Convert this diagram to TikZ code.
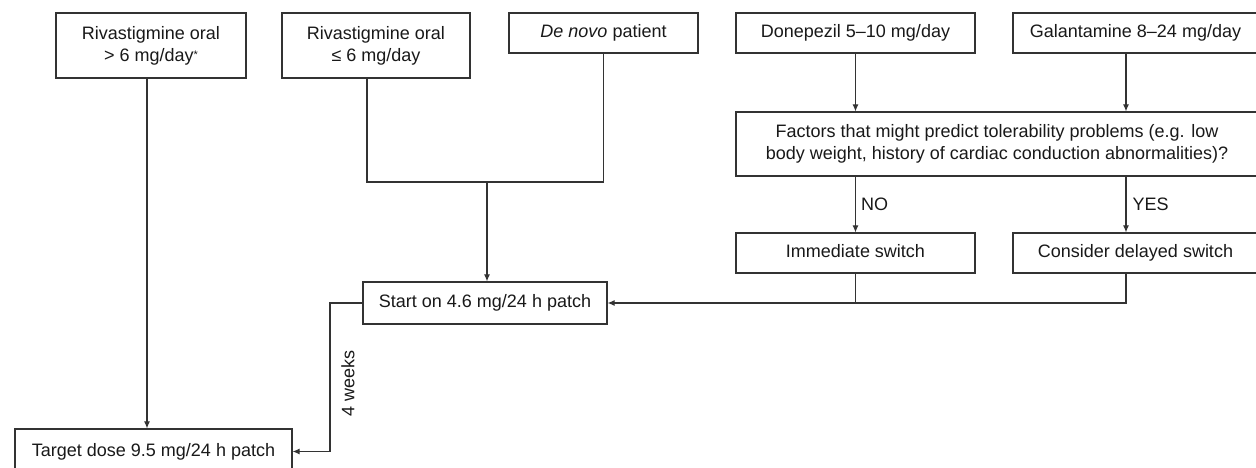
\documentclass[tikz,border=0pt]{standalone}
\usepackage{fontspec}
\setmainfont{Liberation Sans}
\usetikzlibrary{arrows.meta}
\begin{document}
\begin{tikzpicture}[x=1pt,y=-1pt,
  box/.style={draw=black!80, line width=1.2pt, rectangle, align=center, inner sep=0pt,
              font=\fontsize{18}{22}\selectfont, text=black!90},
  oneline/.style={box, text height=13pt, text depth=4pt},
  conn/.style={draw=black!80, line width=1.1pt},
  arr/.style={conn, -{Latex[length=7pt,width=6pt]}},
  lbl/.style={font=\fontsize{18}{22}\selectfont, text=black!90, inner sep=0pt}]
\fill[white] (0,0) rectangle (1256,468);
\useasboundingbox (0,0) rectangle (1256,468);

% top row
\node[box, minimum width=190pt, minimum height=65pt] (A) at (151,45.5)
  {Rivastigmine oral\\> 6 mg/day\raisebox{3pt}{\fontsize{11}{11}\selectfont *}};
\node[box, minimum width=188pt, minimum height=65pt] (B) at (376,45.5)
  {Rivastigmine oral\\≤ 6 mg/day};
\node[oneline, minimum width=189pt, minimum height=40pt] (C) at (603.5,33)
  {\textit{De novo} patient};
\node[oneline, minimum width=239pt, minimum height=40pt] (D) at (855.5,33)
  {Donepezil 5–10 mg/day};
\node[oneline, minimum width=245pt, minimum height=40pt] (E) at (1135.5,33)
  {Galantamine 8–24 mg/day};

% decision
\node[box, minimum width=522pt, minimum height=64pt] (F) at (997,144)
  {Factors that might predict tolerability problems (e.g. low\\body weight, history of cardiac conduction abnormalities)?};

\node[oneline, minimum width=239pt, minimum height=40pt] (G) at (855.5,253)
  {Immediate switch};
\node[oneline, minimum width=245pt, minimum height=40pt] (H) at (1135.5,253)
  {Consider delayed switch};

% start and target
\node[oneline, minimum width=244pt, minimum height=42pt] (S) at (485,303)
  {Start on 4.6 mg/24 h patch};
\node[oneline, minimum width=277pt, minimum height=45pt] (T) at (153.5,451.5)
  {Target dose 9.5 mg/24 h patch};

% connectors
\draw[arr] (A.south -| 147,0) -- (147,0 |- T.north);

\coordinate (J) at (487,182);
\draw[conn] ([xshift=-9pt]B.south) |- (C.south |- J) -- (C.south);
\draw[arr] (J) -- (J |- S.north);

\draw[arr] (D.south) -- (D.south |- F.north);
\draw[arr] ([xshift=-9.5pt]E.south) -- ([xshift=-9.5pt]E.south |- F.north);

\draw[arr] (G.north |- F.south) -- (G.north)
  node[lbl, midway, right=5pt] {NO};
\draw[arr] ([xshift=-9.5pt]H.north |- F.south) -- ([xshift=-9.5pt]H.north)
  node[lbl, midway, right=6pt] {YES};

\draw[arr] ([xshift=-9.5pt]H.south) |- (S.east);
\draw[conn] (G.south) -- (G.south |- S.east);

\coordinate (K) at (330,303);
\draw[arr] (S.west) -- (K) |- (T.east);
\node[lbl, rotate=90] (W) at (348,383) {4 weeks};
\end{tikzpicture}
\end{document}
